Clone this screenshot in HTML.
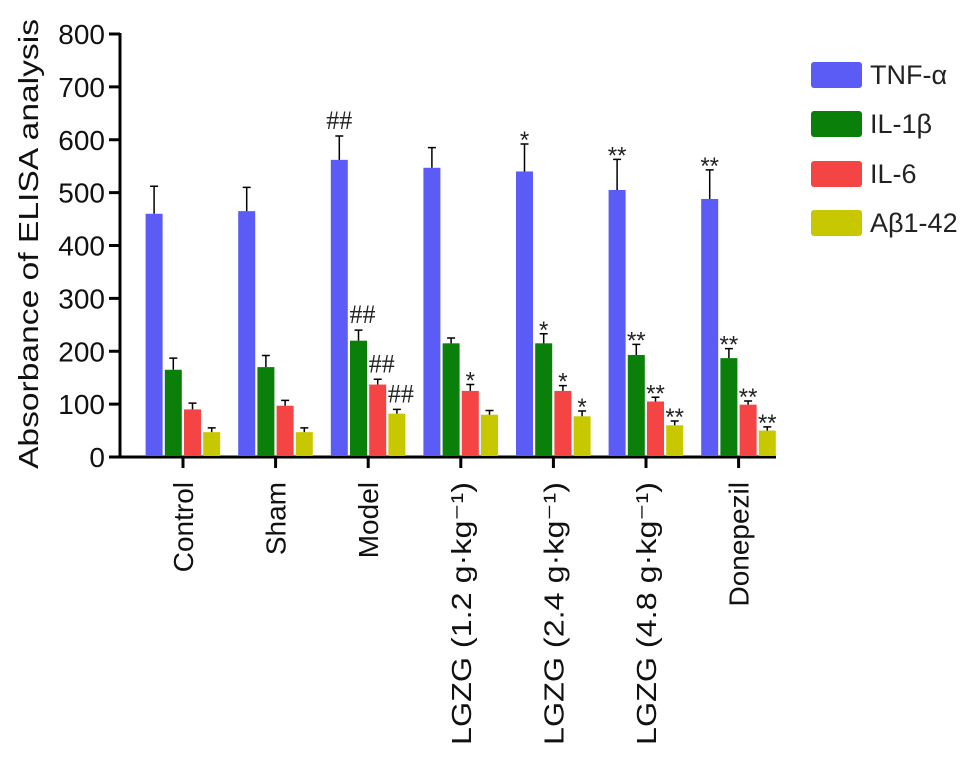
<!DOCTYPE html>
<html><head><meta charset="utf-8"><style>
body{margin:0;background:#fff}
svg{display:block;font-family:"Liberation Sans",Arial,sans-serif}
</style></head><body>
<svg id="chart" width="969" height="759"></svg>
<script>
const groups=["Control","Sham","Model","LGZG (1.2 g·kg⁻¹)","LGZG (2.4 g·kg⁻¹)","LGZG (4.8 g·kg⁻¹)","Donepezil"];
const seriesNames=["TNF-α","IL-1β","IL-6","Aβ1-42"];
const tnf=[460,465,562,547,540,505,488];
const tnfErr=[52,45,45,38,52,58,55];
const il1b=[165,170,220,215,215,193,187];
const il1bErr=[22,22,20,10,18,20,18];
const il6=[90,97,137,125,125,105,99];
const il6Err=[12,10,10,12,10,8,7];
const ab=[47,47,82,80,77,60,50];
const abErr=[8,8,8,8,10,8,7];
const marks=[["","","",""],["","","",""],["##","##","##","##"],["","","*",""],["*","*","*","*"],["**","**","**","**"],["**","**","**","**"]];
const yTicks=[0,100,200,300,400,500,600,700,800];
const colors=["#5b5bf5","#0a800a","#f54444","#c8c800"];
const NS="http://www.w3.org/2000/svg";
const svg=document.getElementById('chart');
function el(t,a,p){const e=document.createElementNS(NS,t);for(const k in a)e.setAttribute(k,a[k]);(p||svg).appendChild(e);return e;}
const y0=457,yScale=423/800;
const Y=v=>y0-v*yScale;
const gx=i=>183+92.6*i;
const bw=17,step=19.2;
const bx=(g,s)=>gx(g)+(s-2)*step+1;
const data=[tnf,il1b,il6,ab],errs=[tnfErr,il1bErr,il6Err,abErr];
let a=el('line',{x1:120,y1:y0,x2:776,y2:y0,stroke:'#000','stroke-width':3});

a=el('line',{x1:120,y1:Y(800)-1,x2:120,y2:y0+1.5,stroke:'#000','stroke-width':3});

yTicks.forEach(t=>{
 const l=el('line',{x1:109,x2:120,y1:Y(t),y2:Y(t),stroke:'#000','stroke-width':3});
 
 const tx=el('text',{x:105,y:Y(t)+10,'text-anchor':'end','font-size':28,fill:'#111'});tx.textContent=t;
 
});
let yt=el('text',{transform:'translate(38,244) rotate(-90)','text-anchor':'middle','font-size':28,fill:'#111',textLength:450,lengthAdjust:'spacingAndGlyphs'});
yt.textContent='Absorbance of ELISA analysis';

groups.forEach((g,i)=>{
 const l=el('line',{x1:gx(i),x2:gx(i),y1:y0,y2:y0+11,stroke:'#000','stroke-width':3});
 
 const attrs={transform:`translate(${gx(i)+10},${y0+25}) rotate(-90)`,'text-anchor':'end','font-size':28,fill:'#111'};
 if(g.startsWith('LGZG')){attrs.textLength=263;attrs.lengthAdjust='spacingAndGlyphs';}
 const t=el('text',attrs);
 t.textContent=g;
 
 for(let s=0;s<4;s++){
  const v=data[s][i],e=errs[s][i],x=bx(i,s),cx=x+bw/2;
  const r=el('rect',{x:x,y:Y(v),width:bw,height:y0-Y(v)-1,fill:colors[s]});
  
  const eb=el('path',{d:`M${cx},${Y(v)}V${Y(v+e)}M${cx-4},${Y(v+e)}H${cx+4}`,stroke:'#000','stroke-width':1.5,fill:'none'});
  
  const m=marks[i][s];
  if(m){
   let mt;
   if(m==='##') mt=el('text',{x:cx+(s>0?4:0),y:Y(v+e)-7,'text-anchor':'middle','font-size':26,fill:'#222','font-family':'Liberation Serif,serif'});
   else mt=el('text',{x:cx,y:Y(v+e)+4,'text-anchor':'middle','font-size':24,fill:'#222'});
   mt.textContent=m;
   
  }
 }
});
const ly=[75,124,174,223];
seriesNames.forEach((n,s)=>{
 const r=el('rect',{x:811,y:ly[s]-13,width:51,height:26,rx:3,fill:colors[s]});
 
 const t=el('text',{x:870,y:ly[s]+9,'font-size':27,fill:'#222'});t.textContent=n;
 
});
</script>
</body></html>
